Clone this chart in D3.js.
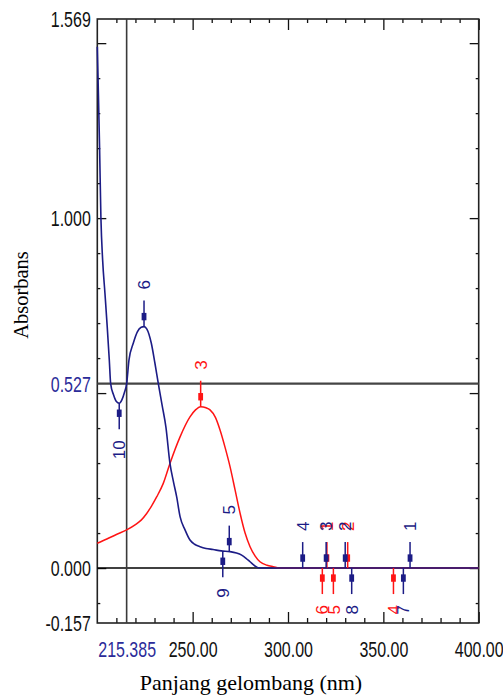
<!DOCTYPE html>
<html><head><meta charset="utf-8">
<script src="https://cdn.jsdelivr.net/npm/d3@7"></script>
<style>body{margin:0;background:#fff}svg{display:block}</style>
</head><body>
<script>
// ---- data ----
const blueNm  = [200.0,200.6,201.2,201.9,202.8,204.0,205.2,206.3,207.0,208.5,210.0,211.5,213.0,214.3,215.4,216.6,218.9,221.0,223.0,224.5,226.0,228.3,230.2,232.0,234.0,236.0,238.1,240.0,241.6,243.4,246.0,248.6,251.0,253.9,257.0,260.7,265.0,269.6,273.0,275.7,278.0,280.1,282.7,285.0,400.0];
const blueAbs = [1.490,1.350,1.200,1.000,0.880,0.786,0.690,0.594,0.527,0.495,0.476,0.471,0.482,0.503,0.527,0.594,0.643,0.675,0.688,0.690,0.683,0.643,0.586,0.527,0.465,0.402,0.299,0.245,0.204,0.147,0.109,0.080,0.068,0.061,0.056,0.053,0.049,0.047,0.043,0.037,0.028,0.018,0.006,0.000,0.000];
const redNm   = [200.0,205.0,210.0,215.4,220.0,223.0,225.9,228.5,231.2,234.6,238.1,243.4,248.6,251.5,254.2,257.0,259.1,262.0,264.4,267.0,269.6,272.3,274.9,277.5,280.1,282.7,285.3,289.0,292.3,296.0,400.0];
const redAbs  = [0.071,0.083,0.096,0.109,0.124,0.137,0.156,0.178,0.204,0.242,0.299,0.375,0.432,0.452,0.461,0.458,0.452,0.430,0.394,0.345,0.290,0.222,0.156,0.100,0.061,0.035,0.018,0.008,0.004,0.000,0.000];

const bluePeakNm = [224.5, 269.2, 307.7, 320.0, 330.0, 364.0];
const bluePeakAbs = [0.690, 0.047, 0, 0, 0, 0];
const bluePeakLabels = ["6","5","4","3","2","1"];
const blueValleyNm = [211.5, 265.8, 333.4, 360.5];
const blueValleyAbs = [0.471, 0.048, 0, 0];
const blueValleyLabels = ["10","9","8","7"];
const redPeakNm = [254.2, 331.3, 320.4];
const redPeakAbs = [0.461, 0, 0];
const redPeakLabels = ["3","2","1"];
const redValleyNm = [318.0, 323.8, 355.3];
const redValleyAbs = [0, 0, 0];
const redValleyLabels = ["6","5","4"];

const xMajorTicks = [250, 300, 350, 400];
const xMinorTicks = [210,220,230,240,260,270,280,290,310,320,330,340,360,370,380,390];
const yMajorTicks = [0, 0.5, 1.0, 1.5];
const yMinorTicks = [-0.1,0.1,0.2,0.3,0.4,0.6,0.7,0.8,0.9,1.1,1.2,1.3,1.4];
const xCursor = 215.385;
const yCursor = 0.527;
const yLabelValues = [-0.157, 0, 0.527, 1.0, 1.569];

const BLUE = "#1c1c86", RED = "#ff1414", LBLUE = "#2b2b99";

// ---- chart ----
const W = 503, H = 700;
const L = 97.3, R = 478.7, T = 19, B = 623;
const svg = d3.select("body").append("svg").attr("width", W).attr("height", H);
const x = d3.scaleLinear([200, 400], [L, R]);
const y = d3.scaleLinear([-0.157, 1.569], [B, T]);

function clean(g){ g.select(".domain").remove(); g.selectAll("line").attr("stroke","#111").attr("stroke-width",1.3); }

// ticks
svg.append("g").attr("transform",`translate(0,${B})`).call(d3.axisBottom(x).tickValues(xMajorTicks).tickSize(-11).tickFormat("")).call(clean);
svg.append("g").attr("transform",`translate(0,${B})`).call(d3.axisBottom(x).tickValues(xMinorTicks).tickSize(-5).tickFormat("")).call(clean);
svg.append("g").attr("transform",`translate(0,${T})`).call(d3.axisTop(x).tickValues(xMajorTicks).tickSize(-11).tickFormat("")).call(clean);
svg.append("g").attr("transform",`translate(0,${T})`).call(d3.axisTop(x).tickValues(xMinorTicks).tickSize(-4).tickFormat("")).call(clean);
svg.append("g").attr("transform",`translate(${L},0)`).call(d3.axisLeft(y).tickValues(yMajorTicks).tickSize(-9).tickFormat("")).call(clean);
svg.append("g").attr("transform",`translate(${L},0)`).call(d3.axisLeft(y).tickValues(yMinorTicks).tickSize(-3).tickFormat("")).call(clean);
svg.append("g").attr("transform",`translate(${R},0)`).call(d3.axisRight(y).tickValues(yMajorTicks).tickSize(-9).tickFormat("")).call(clean);
svg.append("g").attr("transform",`translate(${R},0)`).call(d3.axisRight(y).tickValues(yMinorTicks).tickSize(-3).tickFormat("")).call(clean);

// tick labels (stretched sans)
function styleLabels(g, tx, ty){
  g.select(".domain").remove();
  g.selectAll("line").remove();
  g.selectAll("text")
    .attr("x", null).attr("y", null).attr("dy", "0.36em")
    .attr("transform", `translate(${tx},${ty}) scale(1,1.33)`)
    .attr("font-size", 16).attr("font-family", "'Liberation Sans', Arial, sans-serif")
    .attr("fill", "#111");
}
svg.append("g").attr("transform",`translate(0,${B})`)
  .call(d3.axisBottom(x).tickValues(xMajorTicks).tickSize(0).tickFormat(d=>d.toFixed(2)))
  .call(g=>styleLabels(g,0,26.5));
svg.append("g").attr("transform",`translate(0,${B})`)
  .call(d3.axisBottom(x).tickValues([xCursor]).tickSize(0).tickFormat(d=>d.toFixed(3)))
  .call(g=>styleLabels(g,0,26.5))
  .call(g=>g.selectAll("text").attr("fill", LBLUE));
svg.append("g").attr("transform",`translate(${L},0)`)
  .call(d3.axisLeft(y).tickValues(yLabelValues).tickSize(0).tickFormat(d=>d.toFixed(3)))
  .call(g=>styleLabels(g,-6.5,0))
  .call(g=>g.selectAll("text").attr("fill", d => d === yCursor ? LBLUE : "#111"));

// frame
svg.append("rect").attr("x",L).attr("y",T).attr("width",R-L).attr("height",B-T)
  .attr("fill","none").attr("stroke","#222").attr("stroke-width",1.6);

// zero line & cursors
svg.append("line").attr("x1",L).attr("x2",R).attr("y1",y(0)).attr("y2",y(0)).attr("stroke","#000").attr("stroke-width",1.4);
svg.append("line").attr("x1",x(xCursor)).attr("x2",x(xCursor)).attr("y1",T).attr("y2",B).attr("stroke","#3a3a3a").attr("stroke-width",1.6);
svg.append("line").attr("x1",L).attr("x2",R).attr("y1",y(yCursor)).attr("y2",y(yCursor)).attr("stroke","#444").attr("stroke-width",2.2);

// curves
const line = d3.line().x(d=>x(d[0])).y(d=>y(d[1])).curve(d3.curveMonotoneX);
svg.append("path").datum(d3.zip(redNm, redAbs)).attr("d", line).attr("fill","none").attr("stroke",RED).attr("stroke-width",1.5);
svg.append("path").datum(d3.zip(blueNm, blueAbs)).attr("d", line).attr("fill","none").attr("stroke",BLUE).attr("stroke-width",1.6);

// markers
function markers(nm, ab, labels, dir, color){
  const g = svg.append("g");
  nm.forEach((n,i)=>{
    const xv = x(n), yv = y(ab[i]);
    g.append("line").attr("x1",xv).attr("x2",xv).attr("y1",yv).attr("y2",yv+dir*26).attr("stroke",color).attr("stroke-width",1.5);
    g.append("rect").attr("x",xv-2.4).attr("y",yv+dir*10-3.7).attr("width",4.8).attr("height",7.4).attr("fill",color);
    g.append("text").attr("transform",`translate(${xv},${yv+dir*37}) rotate(-90)`)
      .attr("text-anchor", dir < 0 ? "start" : "end").attr("dy","0.36em")
      .attr("font-size",17).attr("font-family","'Liberation Sans', Arial, sans-serif")
      .attr("fill",color).text(labels[i]);
  });
}
markers(redPeakNm, redPeakAbs, redPeakLabels, -1, RED);
markers(redValleyNm, redValleyAbs, redValleyLabels, 1, RED);
markers(bluePeakNm, bluePeakAbs, bluePeakLabels, -1, BLUE);
markers(blueValleyNm, blueValleyAbs, blueValleyLabels, 1, BLUE);

// axis titles
svg.append("text").attr("transform","translate(28,295) rotate(-90)").attr("text-anchor","middle")
  .attr("font-family","'Liberation Serif', 'Times New Roman', serif").attr("font-size",20.5).attr("fill","#000").text("Absorbans");
svg.append("text").attr("x",251).attr("y",690).attr("text-anchor","middle")
  .attr("font-family","'Liberation Serif', 'Times New Roman', serif").attr("font-size",22).attr("fill","#000").text("Panjang gelombang (nm)");
</script>
</body></html>
